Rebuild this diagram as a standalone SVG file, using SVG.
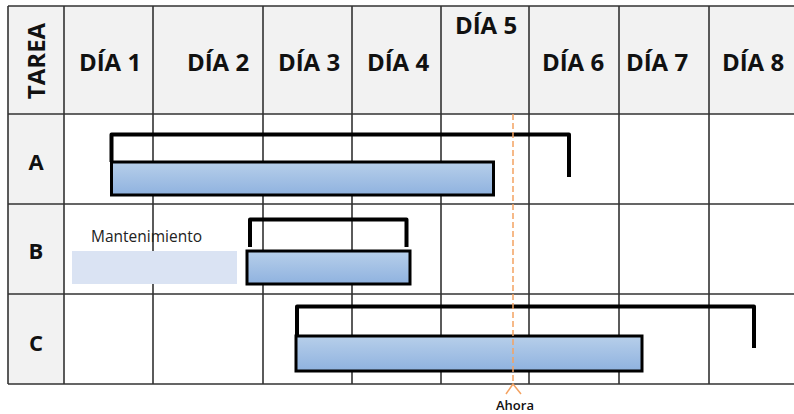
<svg xmlns="http://www.w3.org/2000/svg" width="794" height="414" viewBox="0 0 794 414">
  <style>
    .hdr { font-family: "Open Sans", "Noto Sans", sans-serif; font-weight: 700; font-size: 24px; fill: #111; text-anchor: middle; }
    .row { font-family: "Open Sans", "Noto Sans", sans-serif; font-weight: 700; font-size: 22px; fill: #111; text-anchor: middle; }
    .grid { stroke: #333; stroke-width: 1.6; fill: none; }
    .bar { fill: url(#barFill); stroke: #000; stroke-width: 3; }
    .bracket { fill: none; stroke: #000; stroke-width: 4; stroke-linejoin: round; }
    .note { font-family: "Open Sans", "Noto Sans", sans-serif; font-size: 15.5px; fill: #222; }
    .now { stroke: #f4a261; stroke-width: 1.5; fill: none; }
  </style>
  <defs>
    <linearGradient id="barFill" x1="0" y1="0" x2="0" y2="1">
      <stop offset="0" stop-color="#b7cfea"/>
      <stop offset="1" stop-color="#8fb2df"/>
    </linearGradient>
  </defs>

  <rect width="794" height="414" fill="#fff"/>

  <!-- table backgrounds -->
  <rect x="8" y="6" width="786" height="108" fill="#f2f2f2"/>
  <rect x="8" y="114" width="56" height="270" fill="#f2f2f2"/>

  <!-- grid -->
  <g id="grid" class="grid">
    <path d="M8,6 H794 M8,114 H794 M8,204 H794 M8,294 H794 M8,384 H794"/>
    <path d="M8,6 V384 M64,6 V384 M153,6 V384 M263,6 V384 M352,6 V384 M441,6 V384 M529,6 V384 M619,6 V384 M709,6 V384"/>
  </g>

  <!-- column headers -->
  <g id="headers">
    <text class="hdr" transform="translate(45,61) rotate(-90)">TAREA</text>
    <text class="hdr" x="110" y="71">DÍA 1</text>
    <text class="hdr" x="218" y="71">DÍA 2</text>
    <text class="hdr" x="309" y="71">DÍA 3</text>
    <text class="hdr" x="398" y="71">DÍA 4</text>
    <text class="hdr" x="486" y="34">DÍA 5</text>
    <text class="hdr" x="573" y="71">DÍA 6</text>
    <text class="hdr" x="657" y="71">DÍA 7</text>
    <text class="hdr" x="753" y="71">DÍA 8</text>
  </g>

  <!-- task A -->
  <g id="task-a">
    <text class="row" x="36" y="170">A</text>
    <path class="bracket" d="M111.5,162 V134.5 H569 V177"/>
    <rect class="bar" x="111.5" y="162" width="382" height="33"/>
  </g>

  <!-- task B -->
  <g id="task-b">
    <text class="row" x="36" y="259">B</text>
    <rect x="72" y="251" width="165" height="33" fill="#dae3f3"/>
    <text class="note" x="91" y="242">Mantenimiento</text>
    <path class="bracket" d="M250,247 V219.5 H406.5 V247"/>
    <rect class="bar" x="247" y="251" width="163" height="33"/>
  </g>

  <!-- task C -->
  <g id="task-c">
    <text class="row" x="36" y="351">C</text>
    <path class="bracket" d="M297,336 V306.5 H754 V348"/>
    <rect class="bar" x="296" y="336" width="346" height="35"/>
  </g>

  <!-- current-time marker -->
  <g id="now-marker">
    <line class="now" x1="513" y1="114" x2="513" y2="384" stroke-dasharray="6 3"/>
    <path class="now" d="M506,394 L513,384 L521,394"/>
    <text x="515" y="410" text-anchor="middle" font-family="'Open Sans', 'Noto Sans', sans-serif" font-size="13" font-weight="600" fill="#111">Ahora</text>
  </g>
</svg>
